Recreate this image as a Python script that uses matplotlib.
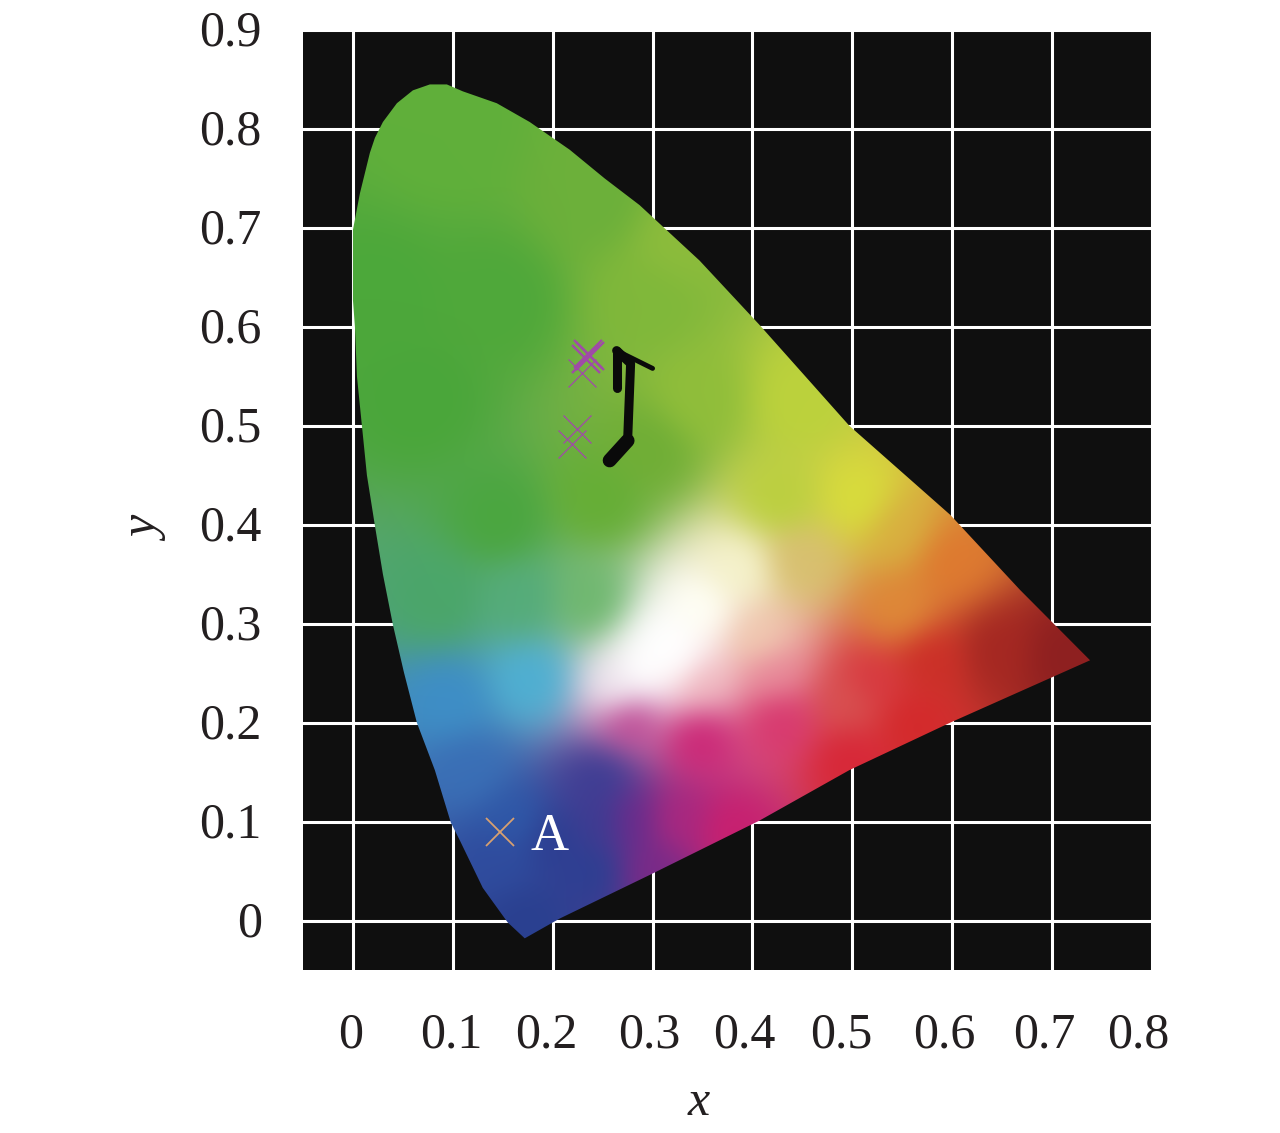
import numpy as np
import matplotlib
matplotlib.use('Agg')
import matplotlib.pyplot as plt
import matplotlib.patches as patches
from matplotlib.colors import to_rgb
from matplotlib.transforms import ScaledTranslation

plt.rcParams['font.family'] = ['Liberation Serif', 'DejaVu Serif']

# chromaticity diagram outline
locus_x = [.172, .155, .130, .107, .098, .082, .064, .051, .040, .030, .022, .014, .009, .004, .002, 0, 0, .007, .017,
           .022, .030, .044, .060, .077, .094, .110, .144, .177, .217, .252, .287, .347, .407, .497, .598, .668, .738,
           .598, .497, .407, .297, .207]
locus_y = [-.018, -.002, .033, .081, .099, .152, .200, .251, .299, .350, .399, .450, .500, .550, .600, .627, .698, .735,
           .776, .791, .807, .826, .839, .845, .845, .838, .826, .807, .779, .750, .723, .667, .602, .500, .410, .334,
           .263, .200, .152, .101, .046, .002]

# colour samples
color_x = [.247, .147, .087, .167, .237, .177, .097, .117, .147, .172, .247, .277, .327, .377, .347, .277, .267, .307,
           .347, .387, .407, .347, .427, .497, .497, .578, .648, .708, .548, .598, .507, .548, .447, .427, .347, .447,
           .297, .327, .247, .097, .147, .067, .027, .297, .320, .330, .290, .560, .520, .420, .240, .250, .300, .200,
           .160]
color_y = [.425, .404, .323, .323, .323, .243, .222, .152, .061, .000, .142, .101, .101, .091, .182, .202, .233, .273,
           .313, .354, .283, .243, .202, .162, .222, .263, .273, .268, .313, .364, .425, .394, .364, .425, .526, .526,
           .627, .688, .728, .799, .627, .526, .627, .475, .280, .260, .250, .200, .240, .250, .050, .100, .050, .080,
           .100]
color_hex = ['#66AE36', '#4BA640', '#4BA66A', '#55AC7A', '#70B870', '#4FAFD2', '#3E8EC6', '#3A6FB6', '#2F4C9E',
             '#2A4090', '#3F3E94', '#6A2C8C', '#A82880', '#C82070', '#CC2A78', '#C05098', '#F0E8F0', '#FFFFFF',
             '#FFFFF5', '#F5F2CC', '#F0C8B0', '#F0B8C0', '#D83A70', '#D82838', '#D85050', '#CC3028', '#A52822',
             '#8E2020', '#DE8838', '#DE7A30', '#D8DC3C', '#D8B040', '#D8C070', '#BCD040', '#90BE3A', '#BCD23C',
             '#80B83A', '#8CBC3C', '#6CB03A', '#60B03A', '#4FA83A', '#4AA63A', '#4CA83A', '#70AE36', '#FFFFFF',
             '#FFFFFF', '#FFFFFF', '#D42A2C', '#D83A40', '#E88A9A', '#2E3F92', '#3D3C92', '#7A2A88', '#2D3F92',
             '#2F58A8']

# chromaticity of the measured points
green_x = [.235, .237, .233, .229, .224, .219]
green_y = [.573, .571, .568, .553, .497, .482]
blue_x = [.147]
blue_y = [.089]

# arrow path
arrow_x = [.257, .275, .278, .264]
arrow_y = [.465, .485, .563, .576]

xticks = [0, .1, .2, .3, .4, .5, .6, .7, .8]
yticks = [0, .1, .2, .3, .4, .5, .6, .7, .8, .9]
xtick_labels = ['0', '0.1', '0.2', '0.3', '0.4', '0.5', '0.6', '0.7', '0.8']
ytick_labels = ['0', '0.1', '0.2', '0.3', '0.4', '0.5', '0.6', '0.7', '0.8', '0.9']
xlabel_shift = [-2, -2, -6, -3, -8, -11, -8, -8, -14]

fig = plt.figure(figsize=(12.8, 11.33), dpi=100, facecolor='white')
ax = fig.add_axes([303 / 1280, 1 - 970 / 1133, 849 / 1280, 940 / 1133])
ax.set_facecolor('#0F0F0F')
ax.set_xlim(-.05, .8)
ax.set_ylim(-.05, .9)
for s in ax.spines.values():
    s.set_visible(False)

ax.set_xticks(xticks)
ax.set_xticklabels(xtick_labels)
ax.set_yticks(yticks)
ax.set_yticklabels(ytick_labels)
ax.tick_params(axis='x', length=0, labelsize=36, pad=30)
ax.tick_params(axis='y', length=0, labelsize=36, pad=29)
ax.grid(True, color='white', lw=2.2)
ax.set_axisbelow(True)
for lab, dx in zip(ax.get_xticklabels(), xlabel_shift):
    lab.set_transform(lab.get_transform() + ScaledTranslation(dx / 100, 0, fig.dpi_scale_trans))
for lab in ax.get_yticklabels():
    lab.set_transform(lab.get_transform() + ScaledTranslation(-.01, .02, fig.dpi_scale_trans))

ax.set_xlabel('x', fontsize=36, style='italic', color='#231F20')
ax.xaxis.set_label_coords(.466, -.1165)
ax.set_ylabel('y', fontsize=36, style='italic', color='#231F20')
ax.yaxis.set_label_coords(-.157, .468)
for lab in ax.get_xticklabels() + ax.get_yticklabels():
    lab.set_color('#231F20')

# blend the colour samples by inverse distance, then soften
ext = (-.06, .80, -.08, .90)
gx, gy = np.meshgrid(np.linspace(ext[0], ext[1], 430), np.linspace(ext[2], ext[3], 490))
cx = np.array(color_x)[:, None, None]
cy = np.array(color_y)[:, None, None]
rgb = np.array([to_rgb(c) for c in color_hex])
w = 1 / (((gx - cx) ** 2 + (gy - cy) ** 2 + 1e-4) ** 2.0)
w = w / w.sum(axis=0)
field = np.tensordot(w, rgb, axes=([0], [0]))
kernel = np.exp(-.5 * (np.arange(-18, 19) / 6) ** 2)
kernel = kernel / kernel.sum()
for axis in (0, 1):
    pad = [(18, 18) if a == axis else (0, 0) for a in range(3)]
    field = np.apply_along_axis(lambda v: np.convolve(v, kernel, mode='valid'), axis, np.pad(field, pad, mode='edge'))

im = ax.imshow(field, extent=ext, origin='lower', aspect='auto', zorder=3, interpolation='bilinear')
outline = patches.Polygon(np.column_stack([locus_x, locus_y]), closed=True, transform=ax.transData)
im.set_clip_path(outline)
ax.set_xlim(-.05, .8)
ax.set_ylim(-.05, .9)

ax.plot(green_x[:3], green_y[:3], ls='none', marker='x', ms=20, mew=1.7, color='#A04AA8', zorder=4)
ax.plot(green_x[3:], green_y[3:], ls='none', marker='x', ms=20, mew=.9, color='#A04AA8', zorder=4)
ax.plot(blue_x, blue_y, ls='none', marker='x', ms=20, mew=1.3, color='#D8A070', zorder=4)

ax.plot(arrow_x[:2], arrow_y[:2], color='#0A0A0A', lw=10, solid_capstyle='round', zorder=5)
ax.plot(arrow_x[1:], arrow_y[1:], color='#0A0A0A', lw=6.5, solid_capstyle='round', solid_joinstyle='round', zorder=5)
ax.plot([arrow_x[3], arrow_x[3]], [arrow_y[3], .538], color='#0A0A0A', lw=6.5, solid_capstyle='round', zorder=5)
ax.plot([arrow_x[3], .300], [arrow_y[3], .558], color='#0A0A0A', lw=3.5, solid_capstyle='round', zorder=5)

ax.text(.197, .084, 'A', fontsize=38, color='white', ha='center', va='center', zorder=6)

fig.savefig('out.png', dpi=100)
